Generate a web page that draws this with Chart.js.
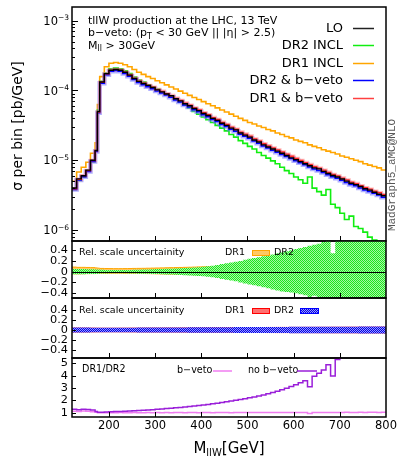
<!DOCTYPE html>
<html><head><meta charset="utf-8">
<script src="https://cdn.jsdelivr.net/npm/chart.js@4.4.1/dist/chart.umd.min.js"></script>
<style>
html,body{margin:0;padding:0;background:#fff;}
#wrap{position:relative;width:399px;height:461px;overflow:hidden;background:#fff;}
canvas{position:absolute;left:0;}
</style></head><body>
<div id="wrap">
<canvas id="c1" width="399" height="244" style="top:0;width:399px;height:244px"></canvas>
<canvas id="c2" width="399" height="63" style="top:238px;width:399px;height:63px"></canvas>
<canvas id="c3" width="399" height="66" style="top:295px;width:399px;height:66px"></canvas>
<canvas id="c4" width="399" height="106" style="top:355px;width:399px;height:106px"></canvas>
</div>
<script>
// ---------- data ----------
const binEdges = [120,130,140,150,160,170,175,180,190,200,210,220,230,240,250,260,270,280,290,300,310,320,330,340,350,360,370,380,390,400,410,420,430,440,450,460,470,480,490,500,510,520,530,540,550,560,570,580,590,600,610,620,630,640,650,660,670,680,690,700,710,720,730,740,750,760,770,780,790,800];

const seriesNames = ['LO','DR2 INCL','DR1 INCL','DR2 & b\u2212veto','DR1 & b\u2212veto'];

const lo = [4.0e-6,5.4e-6,6.0e-6,7.2e-6,1.0e-5,1.38e-5,5.0e-5,
  1.32e-4,1.74e-4,
  1.95e-4,2.0e-4,1.95e-4,1.82e-4,1.66e-4,1.48e-4,1.35e-4,1.26e-4,1.18e-4,1.10e-4,1.02e-4,9.55e-5,8.91e-5,8.4e-5,7.59e-5,7.08e-5,6.46e-5,6.03e-5,5.50e-5,5.13e-5,
  4.68e-5,4.37e-5,3.98e-5,3.72e-5,3.39e-5,3.16e-5,2.88e-5,2.72e-5,2.45e-5,2.29e-5,
  2.14e-5,1.95e-5,1.82e-5,1.66e-5,1.55e-5,1.45e-5,1.35e-5,1.26e-5,1.17e-5,1.08e-5,
  1.02e-5,9.55e-6,8.91e-6,8.32e-6,7.76e-6,7.5e-6,6.92e-6,6.46e-6,6.03e-6,5.75e-6,
  5.37e-6,5.01e-6,4.68e-6,4.47e-6,4.2e-6,3.89e-6,3.72e-6,3.47e-6,3.25e-6,3.09e-6];

const dr2Inc = [3.8e-6,5.13e-6,5.75e-6,7.08e-6,9.55e-6,1.35e-5,5.25e-5,
  1.35e-4,1.78e-4,
  2.04e-4,2.09e-4,2.04e-4,1.91e-4,1.74e-4,1.55e-4,1.41e-4,1.32e-4,1.20e-4,1.12e-4,1.05e-4,9.55e-5,8.91e-5,8.13e-5,7.41e-5,6.76e-5,6.17e-5,5.62e-5,5.01e-5,4.57e-5,
  4.17e-5,3.80e-5,3.47e-5,3.16e-5,2.88e-5,2.63e-5,2.34e-5,2.14e-5,1.91e-5,1.74e-5,
  1.58e-5,1.45e-5,1.29e-5,1.17e-5,1.07e-5,9.77e-6,8.91e-6,7.94e-6,7.08e-6,6.46e-6,
  5.75e-6,5.25e-6,4.68e-6,5.75e-6,3.98e-6,3.55e-6,3.16e-6,3.80e-6,2.34e-6,2.09e-6,
  1.74e-6,1.41e-6,1.58e-6,1.12e-6,1.05e-6,9.3e-7,7.9e-7,7.2e-7,5.0e-7,4.5e-7];

const dr1Inc = [5.0e-6,6.76e-6,7.94e-6,9.33e-6,1.26e-5,1.78e-5,6.3e-5,
  1.58e-4,2.19e-4,
  2.45e-4,2.51e-4,2.45e-4,2.34e-4,2.19e-4,2.0e-4,1.82e-4,1.70e-4,1.58e-4,1.48e-4,1.38e-4,1.29e-4,1.20e-4,1.12e-4,1.05e-4,9.77e-5,9.12e-5,8.51e-5,7.94e-5,7.41e-5,
  6.92e-5,6.46e-5,6.03e-5,5.62e-5,5.25e-5,4.90e-5,4.57e-5,4.27e-5,3.98e-5,3.72e-5,
  3.47e-5,3.31e-5,3.09e-5,2.95e-5,2.75e-5,2.63e-5,2.45e-5,2.34e-5,2.19e-5,2.09e-5,
  1.95e-5,1.86e-5,1.78e-5,1.66e-5,1.58e-5,1.51e-5,1.41e-5,1.35e-5,1.29e-5,1.23e-5,
  1.15e-5,1.10e-5,1.05e-5,1.0e-5,9.55e-6,8.91e-6,8.51e-6,8.13e-6,7.76e-6,7.24e-6];

const dr2Veto = [3.8e-6,5.2e-6,5.8e-6,6.9e-6,9.6e-6,1.33e-5,4.8e-5,
  1.27e-4,1.68e-4,
  1.88e-4,1.93e-4,1.88e-4,1.75e-4,1.60e-4,1.43e-4,1.30e-4,1.21e-4,1.13e-4,1.06e-4,9.8e-5,9.2e-5,8.6e-5,8.0e-5,7.3e-5,6.8e-5,6.2e-5,5.8e-5,5.3e-5,4.93e-5,
  4.5e-5,4.2e-5,3.83e-5,3.58e-5,3.26e-5,3.04e-5,2.77e-5,2.59e-5,2.36e-5,2.2e-5,
  2.06e-5,1.88e-5,1.75e-5,1.6e-5,1.49e-5,1.39e-5,1.3e-5,1.21e-5,1.13e-5,1.06e-5,
  9.8e-6,9.2e-6,8.6e-6,8.0e-6,7.5e-6,7.1e-6,6.65e-6,6.2e-6,5.8e-6,5.5e-6,
  5.15e-6,4.8e-6,4.5e-6,4.3e-6,4.0e-6,3.75e-6,3.55e-6,3.35e-6,3.18e-6,2.95e-6];

const dr1Veto = [3.9e-6,5.3e-6,6.0e-6,7.1e-6,9.9e-6,1.37e-5,4.9e-5,
  1.31e-4,1.73e-4,
  1.95e-4,2.0e-4,1.96e-4,1.83e-4,1.67e-4,1.49e-4,1.36e-4,1.27e-4,1.18e-4,1.11e-4,1.03e-4,9.7e-5,9.0e-5,8.45e-5,7.7e-5,7.2e-5,6.6e-5,6.15e-5,5.62e-5,5.25e-5,
  4.8e-5,4.48e-5,4.09e-5,3.83e-5,3.49e-5,3.26e-5,2.97e-5,2.78e-5,2.53e-5,2.37e-5,
  2.22e-5,2.02e-5,1.89e-5,1.72e-5,1.61e-5,1.5e-5,1.4e-5,1.31e-5,1.22e-5,1.14e-5,
  1.06e-5,9.9e-6,9.25e-6,8.65e-6,8.1e-6,7.7e-6,7.2e-6,6.7e-6,6.25e-6,5.95e-6,
  5.55e-6,5.2e-6,4.85e-6,4.62e-6,4.32e-6,4.03e-6,3.85e-6,3.6e-6,3.43e-6,3.2e-6];

// relative scale uncertainty, inclusive (panel 2)
const dr2IncUp = [0.05,0.05,0.048,0.046,0.045,0.042,0.04,
  0.035,0.033,
  0.032,0.031,0.031,0.032,0.033,0.035,0.037,0.039,0.041,0.044,0.047,0.05,0.053,0.056,0.06,0.064,0.068,0.073,0.078,0.084,
  0.09,0.10,0.11,0.125,0.14,0.155,0.17,0.185,0.20,0.22,
  0.24,0.255,0.27,0.285,0.30,0.32,0.34,0.36,0.38,0.40,
  0.42,0.44,0.46,0.48,0.50,0.52,0.55,0.60,0.34,0.9,
  0.9,0.9,0.9,0.9,0.9,0.9,0.9,0.9,0.9,0.9];
const dr2IncLo = [-0.05,-0.05,-0.048,-0.046,-0.044,-0.042,-0.04,
  -0.035,-0.033,
  -0.032,-0.031,-0.031,-0.032,-0.033,-0.035,-0.037,-0.039,-0.041,-0.043,-0.046,-0.049,-0.052,-0.055,-0.058,-0.062,-0.066,-0.07,-0.075,-0.08,
  -0.085,-0.095,-0.105,-0.12,-0.135,-0.15,-0.165,-0.18,-0.20,-0.22,
  -0.24,-0.255,-0.27,-0.29,-0.31,-0.33,-0.35,-0.37,-0.38,-0.39,
  -0.40,-0.42,-0.44,-0.50,-0.45,-0.9,-0.9,-0.9,-0.9,-0.9,
  -0.9,-0.9,-0.9,-0.9,-0.9,-0.9,-0.9,-0.9,-0.9,-0.9];
const dr1IncUp = [0.085,0.08,0.08,0.078,0.075,0.07,0.065,
  0.06,0.058,
  0.057,0.056,0.056,0.057,0.058,0.06,0.061,0.062,0.064,0.066,0.068,0.07,0.072,0.074,0.076,0.078,0.08,0.082,0.085,0.088,
  0.09,0.093,0.096,0.1,0.103,0.106,0.11,0.113,0.116,0.12,
  0.123,0.126,0.13,0.133,0.136,0.14,0.143,0.146,0.15,0.153,
  0.156,0.16,0.163,0.166,0.17,0.173,0.176,0.18,0.183,0.186,
  0.19,0.193,0.196,0.2,0.203,0.206,0.21,0.213,0.216,0.22];
const dr1IncLo = [-0.04,-0.04,-0.038,-0.037,-0.036,-0.035,-0.034,
  -0.033,-0.032,
  -0.031,-0.03,-0.03,-0.031,-0.032,-0.033,-0.034,-0.035,-0.036,-0.038,-0.04,-0.042,-0.044,-0.046,-0.048,-0.05,-0.052,-0.054,-0.056,-0.058,
  -0.06,-0.063,-0.066,-0.07,-0.073,-0.076,-0.08,-0.083,-0.086,-0.09,
  -0.093,-0.096,-0.1,-0.103,-0.106,-0.11,-0.113,-0.116,-0.12,-0.123,
  -0.126,-0.13,-0.133,-0.136,-0.14,-0.143,-0.146,-0.15,-0.153,-0.156,
  -0.16,-0.163,-0.166,-0.17,-0.173,-0.176,-0.18,-0.183,-0.186,-0.19];

// relative scale uncertainty with b-veto (panel 3), symmetric
const dr2VetoUnc = [0.05,0.05,0.048,0.048,0.046,0.045,0.045,
  0.044,0.044,0.045,0.045,0.046,0.046,0.047,0.047,0.048,0.048,0.049,0.049,0.05,
  0.05,0.05,0.051,0.051,0.052,0.052,0.053,0.053,0.054,0.054,
  0.055,0.055,0.056,0.056,0.057,0.057,0.058,0.058,0.059,0.059,
  0.06,0.06,0.06,0.061,0.061,0.062,0.062,0.062,0.063,0.063,
  0.063,0.064,0.064,0.064,0.065,0.065,0.065,0.066,0.066,0.066,
  0.067,0.067,0.067,0.068,0.068,0.068,0.069,0.069,0.07];
const dr1VetoUnc = [0.04,0.04,0.039,0.039,0.038,0.037,0.037,
  0.036,0.036,0.036,0.036,0.037,0.037,0.038,0.038,0.039,0.039,0.04,0.04,0.04,
  0.04,0.041,0.041,0.041,0.042,0.042,0.043,0.043,0.044,0.044,
  0.045,0.045,0.046,0.046,0.047,0.047,0.048,0.048,0.049,0.049,
  0.05,0.05,0.05,0.051,0.051,0.052,0.052,0.052,0.053,0.053,
  0.053,0.054,0.054,0.054,0.055,0.055,0.055,0.056,0.056,0.056,
  0.057,0.057,0.057,0.058,0.058,0.058,0.059,0.059,0.06];

// DR1/DR2 ratios (panel 4)
const ratioNoVeto = [1.28,1.24,1.27,1.25,1.22,1.10,1.04,
  1.04,1.06,
  1.08,1.09,1.10,1.11,1.13,1.15,1.17,1.19,1.22,1.24,1.27,1.30,1.33,1.36,1.39,1.42,1.46,1.50,1.54,1.58,
  1.62,1.67,1.72,1.77,1.82,1.88,1.94,2.00,2.07,2.13,
  2.20,2.28,2.36,2.44,2.53,2.63,2.73,2.86,2.98,3.12,
  3.27,3.42,3.58,3.10,3.95,4.20,4.45,4.88,3.97,5.30,
  6.00,6.8,7.6,8.4,9.2,10.0,11.0,12.0,13.0,14.0];
const ratioVeto = [1.12,1.10,1.13,1.11,1.08,1.03,1.00,
  0.99,1.00,
  1.00,1.00,1.01,1.00,1.00,1.01,1.00,1.00,1.01,1.00,1.01,1.00,1.01,1.00,1.01,1.01,1.00,1.01,1.01,1.00,
  1.01,1.01,1.00,1.01,1.01,1.01,1.00,1.01,1.01,1.02,
  1.01,1.01,1.02,1.01,1.01,1.02,1.01,1.02,1.01,1.02,
  1.02,1.01,1.02,0.93,1.02,1.01,1.02,1.02,1.01,1.02,
  1.02,1.03,1.02,1.02,1.03,1.02,1.03,1.03,1.02,1.03];

// axis ticks
const xMin = 120, xMax = 800;
const xTickVals = [200,300,400,500,600,700,800];
const logExps = [-3,-4,-5,-6];
const relTicks = [0.4,0.2,0,-0.2,-0.4];
const ratioTicks = [1,2,3,4,5];
const bandNames = ['DR1','DR2'];
const ratioNames = ['b\u2212veto','no b\u2212veto'];

// ---------- helpers ----------
const FONT = '"DejaVu Sans", "Liberation Sans", sans-serif';
function hist(vals){
  const pts = vals.map((v,i)=>({x: binEdges[i], y: v}));
  pts.push({x: binEdges[binEdges.length-1], y: vals[vals.length-1]});
  return pts;
}
function line(vals, color, width, order, extra){
  return Object.assign({data: hist(vals), borderColor: color, borderWidth: width, order: order,
    stepped: true, fill: false, pointRadius: 0, clip: 0}, extra || {});
}
function checker(a, b){
  const cv = document.createElement('canvas'); cv.width = 2; cv.height = 2;
  const x = cv.getContext('2d');
  x.fillStyle = b; x.fillRect(0,0,2,2);
  x.fillStyle = a; x.fillRect(0,0,1,1); x.fillRect(1,1,1,1);
  return x.createPattern(cv, 'repeat');
}
const greenPat = checker('#1ee81e', '#a8f5a8');
const bluePat = checker('#0000e8', '#9a9aff');
const fmt = v => (v < 0 ? '\u2212' : '') + String(Math.abs(Math.round(v*10)/10));

function rich(ctx, x, y, parts, align){
  let w = 0;
  for (const p of parts){ ctx.font = p[1] + 'px ' + FONT; w += ctx.measureText(p[0]).width; }
  let cx = align === 'right' ? x - w : (align === 'center' ? x - w/2 : x);
  ctx.textAlign = 'left';
  for (const p of parts){ ctx.font = p[1] + 'px ' + FONT; ctx.fillText(p[0], cx, y + (p[2] || 0)); cx += ctx.measureText(p[0]).width; }
}
function frameTicks(chart, yVals, yLen, minorLog){
  const ctx = chart.ctx, a = chart.chartArea, xs = chart.scales.x, ys = chart.scales.y;
  ctx.save();
  ctx.strokeStyle = '#000'; ctx.lineWidth = 1;
  ctx.beginPath();
  for (const v of xTickVals){
    if (v <= xMin || v >= xMax) continue;
    const px = Math.round(xs.getPixelForValue(v)) + 0.5;
    ctx.moveTo(px, a.bottom); ctx.lineTo(px, a.bottom - 5);
  }
  for (const v of yVals){
    const py = Math.round(ys.getPixelForValue(v)) + 0.5;
    if (py <= a.top + 1 || py >= a.bottom - 1) continue;
    ctx.moveTo(a.left, py); ctx.lineTo(a.left + yLen, py);
  }
  ctx.stroke();
  if (minorLog){
    ctx.beginPath();
    for (const e of minorLog){
      for (let k = 2; k <= 9; k++){
        const py = Math.round(ys.getPixelForValue(k * Math.pow(10, e))) + 0.5;
        if (py <= a.top + 1 || py >= a.bottom - 1) continue;
        ctx.moveTo(a.left, py); ctx.lineTo(a.left + 3, py);
      }
    }
    ctx.stroke();
  }
  ctx.lineWidth = 1.5;
  ctx.strokeRect(a.left, a.top, a.right - a.left, a.bottom - a.top);
  ctx.restore();
}
function baseOpts(extra){
  return Object.assign({
    responsive: false, animation: false, devicePixelRatio: 1, events: [],
    plugins: {legend: {display: false}, tooltip: {enabled: false}},
    elements: {point: {radius: 0}, line: {tension: 0}}
  }, extra);
}
function zeroPad(s){ s.paddingTop = 0; s.paddingBottom = 0; s.paddingLeft = 0; s.paddingRight = 0; }
function ratioY(min, max, ticks){
  return {type: 'linear', min: min, max: max, position: 'left',
    grid: {display: false, drawTicks: false}, border: {display: false},
    ticks: {font: {family: 'DejaVu Sans', size: 11.3}, color: '#000', padding: 4, autoSkip: false, callback: v => fmt(v)},
    afterBuildTicks: s => { s.ticks = ticks.map(v => ({value: v})); },
    afterFit: s => { s.width = 72; zeroPad(s); }};
}

// ---------- panel 1 ----------
const p1 = {id: 'p1', afterDatasetsDraw(chart){
  const ctx = chart.ctx, ys = chart.scales.y;
  frameTicks(chart, logExps.map(e => Math.pow(10, e)), 6, [-7,-6,-5,-4,-3]);
  ctx.save();
  ctx.fillStyle = '#000'; ctx.textBaseline = 'alphabetic';
  for (const e of logExps){
    const py = ys.getPixelForValue(Math.pow(10, e));
    rich(ctx, 69, py + 4.2, [['10', 11.5, 0], ['\u2212' + String(-e), 7.5, -4.5]], 'right');
  }
  // y title
  ctx.save(); ctx.translate(22, 126); ctx.rotate(-Math.PI/2);
  ctx.font = '14px ' + FONT; ctx.textAlign = 'center'; ctx.fillText('\u03c3 per bin [pb/GeV]', 0, 0);
  ctx.restore();
  // annotations
  rich(ctx, 88, 23.5, [['tllW production at the LHC, 13 TeV', 11, 0]], 'left');
  rich(ctx, 88, 36, [['b\u2212veto: (p', 11, 0], ['T', 8, 2.5], [' < 30 GeV || |\u03b7| > 2.5)', 11, 0]], 'left');
  rich(ctx, 88, 48.5, [['M', 11, 0], ['ll', 8, 2.5], [' > 30GeV', 11, 0]], 'left');
  // legend
  const cols = ['#222','#11ee11','#ffa500','#0000ff','#ff4040'];
  ctx.font = '13px ' + FONT; ctx.textAlign = 'right'; ctx.textBaseline = 'middle';
  seriesNames.forEach((n, i) => {
    const y = 27.7 + 17.5 * i;
    ctx.fillStyle = '#000'; ctx.fillText(n, 343, y + 0.5);
    ctx.strokeStyle = cols[i]; ctx.lineWidth = 1.5;
    ctx.beginPath(); ctx.moveTo(353, Math.round(y) + 0.5); ctx.lineTo(374, Math.round(y) + 0.5); ctx.stroke();
  });
  // generator tag
  ctx.save(); ctx.translate(395, 175); ctx.rotate(-Math.PI/2);
  ctx.font = '11px "Liberation Mono", "DejaVu Sans Mono", monospace'; ctx.textAlign = 'center'; ctx.textBaseline = 'alphabetic';
  ctx.fillStyle = '#555'; ctx.fillText('MadGraph5_aMC@NLO', 0, 0);
  ctx.restore();
  ctx.restore();
}};

new Chart(document.getElementById('c1'), {
  type: 'line',
  data: {datasets: [
    line(lo, '#000', 1.4, 0),
    line(dr1Veto, '#ff2a2a', 1.3, 1),
    line(dr2Veto, '#0000ff', 1.5, 2),
    line(dr1Veto, 'rgba(255,120,120,0.5)', 3.5, 3),
    line(dr2Veto, 'rgba(110,110,255,0.55)', 4.5, 4),
    line(dr2Inc, '#11ee11', 1.6, 5),
    line(dr1Inc, '#ffa500', 1.6, 6)
  ]},
  options: baseOpts({
    layout: {padding: {left: 72, right: 13, top: 7, bottom: 3}},
    scales: {
      x: {type: 'linear', min: xMin, max: xMax, display: false},
      y: {type: 'logarithmic', min: 6.95e-7, max: 1.57e-3, display: false}
    }
  }),
  plugins: [p1]
});

// ---------- panel 2 ----------
function bandLegend(ctx, cy, fill1, stroke1, fill2, stroke2){
  ctx.fillStyle = '#000'; ctx.textBaseline = 'middle'; ctx.textAlign = 'left';
  ctx.font = '9.5px ' + FONT;
  ctx.fillText('Rel. scale uncertainity', 79, cy);
  ctx.fillText(bandNames[0], 225, cy);
  ctx.fillText(bandNames[1], 274, cy);
  ctx.fillStyle = fill1; ctx.fillRect(252, cy - 2.5, 17, 5);
  if (stroke1){ ctx.strokeStyle = stroke1; ctx.lineWidth = 1; ctx.strokeRect(252.5, cy - 2.5, 17, 5); }
  ctx.fillStyle = fill2; ctx.fillRect(300, cy - 2.5, 18, 5);
  if (stroke2){ ctx.strokeStyle = stroke2; ctx.lineWidth = 1; ctx.strokeRect(300.5, cy - 2.5, 18, 5); }
}
const p2 = {id: 'p2', afterDatasetsDraw(chart){
  const ctx = chart.ctx, a = chart.chartArea, ys = chart.scales.y;
  ctx.save();
  const y0 = Math.round(ys.getPixelForValue(0)) + 0.5;
  ctx.strokeStyle = '#000'; ctx.lineWidth = 1;
  ctx.beginPath(); ctx.moveTo(a.left, y0); ctx.lineTo(a.right, y0); ctx.stroke();
  ctx.restore();
  frameTicks(chart, relTicks, 4);
  ctx.save(); bandLegend(ctx, 15, '#ffc864', '#ffa500', greenPat, null); ctx.restore();
}};
new Chart(document.getElementById('c2'), {
  type: 'line',
  data: {datasets: [
    line(dr2IncUp, 'rgba(0,0,0,0)', 1, 0, {fill: '+1', backgroundColor: greenPat}),
    line(dr2IncLo, 'rgba(0,0,0,0)', 1, 1),
    line(dr1IncUp, '#ffa500', 1, 2, {fill: '+1', backgroundColor: '#ffc864'}),
    line(dr1IncLo, '#ffa500', 1, 3)
  ]},
  options: baseOpts({
    layout: {padding: {left: 0, right: 13, top: 3, bottom: 3}},
    scales: {
      x: {type: 'linear', min: xMin, max: xMax, display: false},
      y: ratioY(-0.49, 0.57, relTicks)
    }
  }),
  plugins: [p2]
});

// ---------- panel 3 ----------
const p3 = {id: 'p3',
  beforeDatasetsDraw(chart){
    const ctx = chart.ctx, a = chart.chartArea, ys = chart.scales.y;
    const y0 = Math.round(ys.getPixelForValue(0)) + 0.5;
    ctx.save(); ctx.strokeStyle = '#000'; ctx.lineWidth = 1;
    ctx.beginPath(); ctx.moveTo(a.left, y0); ctx.lineTo(a.right, y0); ctx.stroke(); ctx.restore();
  },
  afterDatasetsDraw(chart){
    frameTicks(chart, relTicks, 4);
    const ctx = chart.ctx;
    ctx.save(); bandLegend(ctx, 16, '#ff7070', '#ff0000', bluePat, '#0000ff'); ctx.restore();
  }};
new Chart(document.getElementById('c3'), {
  type: 'line',
  data: {datasets: [
    line(dr2VetoUnc, 'rgba(0,0,0,0)', 1, 0, {fill: '+1', backgroundColor: bluePat}),
    line(dr2VetoUnc.map(v => -v), 'rgba(0,0,0,0)', 1, 1),
    line(dr1VetoUnc, '#ff4040', 1, 2, {fill: '+1', backgroundColor: '#ff8080'}),
    line(dr1VetoUnc.map(v => -v), '#ff4040', 1, 3)
  ]},
  options: baseOpts({
    layout: {padding: {left: 0, right: 13, top: 3, bottom: 3}},
    scales: {
      x: {type: 'linear', min: xMin, max: xMax, display: false},
      y: ratioY(-0.56, 0.64, relTicks)
    }
  }),
  plugins: [p3]
});

// ---------- panel 4 ----------
const p4 = {id: 'p4', afterDatasetsDraw(chart){
  frameTicks(chart, ratioTicks, 4);
  const ctx = chart.ctx;
  ctx.save();
  ctx.fillStyle = '#000'; ctx.textBaseline = 'middle'; ctx.textAlign = 'left';
  ctx.font = '9.6px ' + FONT;
  ctx.fillText('DR1/DR2', 82, 14.5);
  ctx.fillText(ratioNames[0], 177, 15.7);
  ctx.fillText(ratioNames[1], 248, 15.7);
  ctx.lineWidth = 1.5;
  ctx.strokeStyle = '#f07cf0'; ctx.beginPath(); ctx.moveTo(213, 16); ctx.lineTo(232, 16); ctx.stroke();
  ctx.strokeStyle = '#9a1fd9'; ctx.beginPath(); ctx.moveTo(297, 16); ctx.lineTo(317, 16); ctx.stroke();
  // x title
  ctx.textBaseline = 'alphabetic';
  rich(ctx, 229, 98, [['M', 15, 0], ['llW', 10, 3], ['[GeV]', 15, 0]], 'center');
  ctx.restore();
}};
new Chart(document.getElementById('c4'), {
  type: 'line',
  data: {datasets: [
    line(ratioNoVeto, '#9a1fd9', 1.5, 0),
    line(ratioVeto, '#f07cf0', 1.5, 1)
  ]},
  options: baseOpts({
    layout: {padding: {left: 0, right: 13, top: 3, bottom: 0}},
    scales: {
      x: {type: 'linear', min: xMin, max: xMax, position: 'bottom',
        grid: {display: false, drawTicks: false}, border: {display: false},
        ticks: {font: {family: 'DejaVu Sans', size: 11.5}, color: '#000', padding: 2, autoSkip: false, maxRotation: 0, callback: v => String(v)},
        afterBuildTicks: s => { s.ticks = xTickVals.map(v => ({value: v})); },
        afterFit: s => { s.height = 44; zeroPad(s); }},
      y: ratioY(0.65, 5.43, ratioTicks)
    }
  }),
  plugins: [p4]
});
</script>
</body></html>
